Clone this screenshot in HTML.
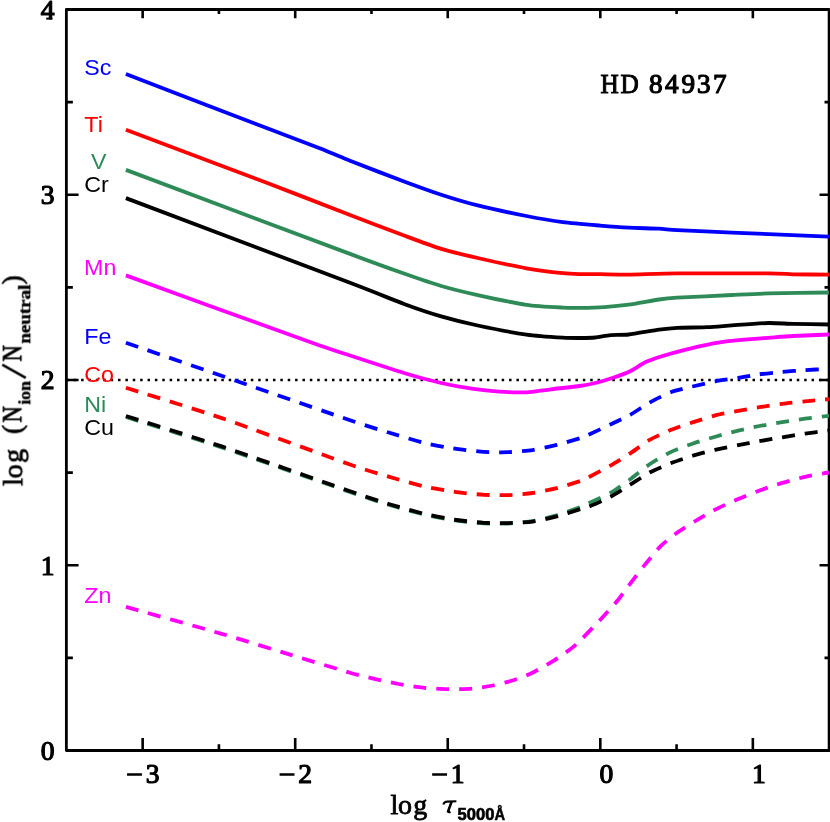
<!DOCTYPE html>
<html><head><meta charset="utf-8"><title>HD 84937</title>
<style>html,body{margin:0;padding:0;background:#fff;}body{width:830px;height:822px;overflow:hidden;}svg{display:block;}text{font-family:"Liberation Serif",serif;}.s{font-family:"Liberation Sans",sans-serif;font-size:22.8px;}.sb{font-weight:bold;}.b{font-family:"Liberation Sans",sans-serif;font-weight:bold;}</style>
</head><body>
<svg width="830" height="822" viewBox="0 0 830 822">
<defs><filter id="g" filterUnits="userSpaceOnUse" x="0" y="0" width="830" height="822" color-interpolation-filters="sRGB"><feOffset dx="0" dy="0"/></filter></defs>
<rect width="830" height="822" fill="#fff"/>
<g stroke="#000" fill="none" stroke-linecap="butt">
<rect x="66.37" y="9.50" width="762.75" height="741.00" stroke-width="2.80" stroke-linejoin="round"/>
<path d="M142.65 750.50v-12.50M142.65 9.50v8.70M218.92 750.50v-6.20M218.92 9.50v4.40M295.20 750.50v-12.50M295.20 9.50v8.70M371.47 750.50v-6.20M371.47 9.50v4.40M447.75 750.50v-12.50M447.75 9.50v8.70M524.02 750.50v-6.20M524.02 9.50v4.40M600.30 750.50v-12.50M600.30 9.50v8.70M676.57 750.50v-6.20M676.57 9.50v4.40M752.85 750.50v-12.50M752.85 9.50v8.70M66.37 657.88h6.50M829.12 657.88h-4.60M66.37 565.25h12.20M829.12 565.25h-9.60M66.37 472.62h6.50M829.12 472.62h-4.60M66.37 380.00h12.20M829.12 380.00h-9.60M66.37 287.38h6.50M829.12 287.38h-4.60M66.37 194.75h12.20M829.12 194.75h-9.60M66.37 102.12h6.50M829.12 102.12h-4.60" stroke-width="2.60"/>
</g>
<path d="M66.37 380.00 H829.12" stroke="#000" stroke-width="2.5" stroke-dasharray="2.5 4.878" fill="none"/>
<clipPath id="c"><rect x="0" y="0" width="829.12" height="822"/></clipPath>
<g fill="none" stroke-width="3.80" stroke-linejoin="round" clip-path="url(#c)">
<path d="M125.90 74.10 C136.15 78.04 201.40 103.12 222.00 111.00 C242.60 118.88 305.35 142.69 319.00 148.00 C332.65 153.31 340.86 157.21 350.00 160.80 C359.14 164.39 394.97 178.08 404.70 181.70 C414.43 185.32 433.41 192.17 441.20 194.70 C448.99 197.23 468.61 203.13 477.70 205.40 C486.79 207.67 517.31 214.22 526.40 216.00 C535.49 217.78 555.05 221.08 562.90 222.10 C570.75 223.12 592.98 225.00 600.00 225.60 C607.02 226.20 622.41 227.37 628.70 227.70 C634.99 228.03 653.82 228.43 659.00 228.70 C664.18 228.97 669.51 229.78 677.30 230.20 C685.09 230.62 722.26 232.18 732.00 232.60 C741.74 233.02 758.20 233.67 768.60 234.10 C779.00 234.53 823.00 236.33 829.50 236.60" stroke="#0000ff"/>
<path d="M125.90 129.70 C140.98 135.39 243.40 173.90 267.30 183.00 C291.20 192.10 335.34 209.37 350.00 215.00 C364.66 220.63 394.97 232.18 404.70 235.80 C414.43 239.42 433.41 246.53 441.20 248.90 C448.99 251.27 468.61 255.93 477.70 258.00 C486.79 260.07 517.31 266.68 526.40 268.30 C535.49 269.92 557.08 272.58 562.90 273.20 C568.72 273.82 577.04 273.99 581.00 274.10 C584.96 274.21 594.91 274.15 600.00 274.20 C605.09 274.25 620.45 274.69 628.70 274.60 C636.95 274.51 662.38 273.53 677.30 273.40 C692.22 273.27 756.27 273.30 768.60 273.40 C780.75 273.49 786.40 274.17 792.90 274.30 C799.40 274.43 825.60 274.57 829.50 274.60" stroke="#ff0000"/>
<path d="M125.90 169.90 C149.80 178.86 320.26 242.82 350.00 253.90 C377.35 264.09 394.97 270.38 404.70 273.80 C414.43 277.22 433.41 283.73 441.20 286.00 C448.99 288.27 468.61 293.09 477.70 295.10 C486.79 297.11 517.31 303.47 526.40 304.80 C535.49 306.13 557.08 307.27 562.90 307.60 C568.72 307.93 576.58 307.95 581.00 307.90 C585.42 307.85 599.21 307.44 604.30 307.10 C609.39 306.76 622.87 305.51 628.70 304.70 C634.53 303.89 653.82 300.25 659.00 299.50 C664.18 298.75 669.51 298.18 677.30 297.70 C685.09 297.22 722.26 295.46 732.00 295.00 C741.74 294.54 758.20 293.67 768.60 293.40 C779.00 293.13 823.00 292.60 829.50 292.50" stroke="#2e8b57"/>
<path d="M125.90 198.10 C149.80 207.13 320.26 271.48 350.00 282.80 C377.35 293.21 394.97 300.62 404.70 304.20 C414.43 307.78 433.41 314.13 441.20 316.40 C448.99 318.67 468.61 323.56 477.70 325.50 C486.79 327.44 517.31 333.30 526.40 334.60 C535.49 335.90 557.08 337.34 562.90 337.70 C568.72 338.06 577.55 338.02 581.00 338.00 C584.45 337.98 592.06 337.81 595.20 337.50 C598.34 337.19 606.83 335.42 610.40 335.10 C613.97 334.78 623.52 335.09 628.70 334.50 C633.88 333.91 653.82 330.31 659.00 329.60 C664.18 328.89 672.11 328.06 677.30 327.80 C682.49 327.54 701.87 327.46 707.70 327.20 C713.53 326.94 725.50 325.85 732.00 325.40 C738.50 324.95 762.10 323.16 768.60 323.00 C775.10 322.84 786.40 323.74 792.90 323.90 C799.40 324.06 825.60 324.44 829.50 324.50" stroke="#000000"/>
<path d="M125.90 275.40 C136.12 279.11 201.10 302.75 221.70 310.20 C242.30 317.65 305.31 340.37 319.00 345.20 C332.69 350.03 340.86 352.51 350.00 355.50 C359.14 358.49 394.97 370.27 404.70 373.20 C414.43 376.13 434.05 381.35 441.20 383.00 C448.35 384.65 465.53 387.77 471.70 388.70 C477.87 389.63 493.17 391.32 499.00 391.70 C504.83 392.08 520.89 392.56 526.40 392.30 C531.91 392.04 544.98 389.97 550.70 389.30 C556.42 388.63 575.01 386.73 580.00 386.00 C584.99 385.27 593.98 383.37 597.50 382.50 C601.02 381.63 609.58 378.97 613.00 377.80 C616.42 376.63 626.11 373.19 629.60 371.50 C633.09 369.81 642.27 363.63 645.70 362.00 C649.13 360.37 658.43 357.29 661.80 356.20 C665.17 355.11 673.04 352.91 677.30 351.80 C681.56 350.69 696.83 346.87 701.70 345.80 C706.57 344.73 718.14 342.48 723.00 341.80 C727.86 341.12 742.44 339.83 747.30 339.40 C752.16 338.97 763.74 338.16 768.60 337.80 C773.46 337.44 786.40 336.35 792.90 336.00 C799.40 335.65 825.60 334.66 829.50 334.50" stroke="#ff00ff"/>
<path d="M125.90 342.70 C138.39 347.02 219.10 374.93 243.00 383.20 C266.90 391.47 334.37 414.91 350.00 420.20 C365.63 425.49 381.39 430.33 389.50 432.80 C397.61 435.27 418.86 441.68 426.00 443.40 C433.14 445.12 450.23 447.99 456.40 448.90 C462.57 449.81 478.27 451.55 483.80 451.90 C489.33 452.25 503.01 452.39 508.20 452.20 C513.39 452.01 527.32 450.88 532.50 450.10 C537.68 449.32 551.62 446.20 556.80 444.90 C561.98 443.60 577.65 439.01 581.10 437.90 C584.55 436.79 585.97 435.93 589.10 434.50 C592.23 433.07 606.02 426.60 610.40 424.50 C614.78 422.40 625.98 417.17 630.20 414.80 C634.42 412.43 645.63 404.73 650.00 402.30 C654.37 399.87 666.67 393.69 671.20 392.00 C675.73 390.31 687.80 387.64 692.50 386.50 C697.20 385.36 710.43 382.21 715.30 381.30 C720.17 380.39 733.50 378.75 738.20 378.00 C742.90 377.25 754.70 374.95 759.40 374.30 C764.10 373.65 777.43 372.35 782.30 371.90 C787.17 371.45 800.25 370.42 805.10 370.10 C809.95 369.78 825.38 369.03 827.80 368.90" stroke="#0000ff" stroke-dasharray="13.10 9.86"/>
<path d="M125.90 387.70 C136.12 390.94 197.80 409.91 221.70 418.10 C245.60 426.29 332.10 458.23 350.00 464.50 C367.90 470.77 381.39 474.51 389.50 476.90 C397.61 479.29 418.86 485.28 426.00 486.90 C433.14 488.52 450.23 491.26 456.40 492.10 C462.57 492.94 478.27 494.48 483.80 494.80 C489.33 495.12 503.01 495.29 508.20 495.10 C513.39 494.91 527.32 493.75 532.50 493.00 C537.68 492.25 551.62 489.40 556.80 488.10 C561.98 486.80 577.65 481.98 581.10 480.80 C584.55 479.62 585.97 478.62 589.10 477.00 C592.23 475.38 606.02 468.12 610.40 465.60 C614.78 463.08 625.98 456.16 630.20 453.40 C634.42 450.64 645.63 442.23 650.00 439.70 C654.37 437.17 666.67 431.55 671.20 429.70 C675.73 427.85 687.80 423.93 692.50 422.40 C697.20 420.87 710.43 416.64 715.30 415.40 C720.17 414.16 733.50 411.67 738.20 410.80 C742.90 409.93 754.70 407.95 759.40 407.20 C764.10 406.45 777.43 404.42 782.30 403.80 C787.17 403.18 800.07 401.90 805.10 401.40 C810.13 400.90 826.90 399.35 829.50 399.10" stroke="#ff0000" stroke-dasharray="13.10 9.86"/>
<path d="M125.90 417.00 C136.12 420.24 197.80 439.40 221.70 447.40 C245.60 455.40 332.10 485.86 350.00 492.00 C367.90 498.14 381.39 502.55 389.50 505.00 C397.61 507.45 418.86 513.35 426.00 515.00 C433.14 516.65 450.23 519.61 456.40 520.50 C462.57 521.39 478.27 522.98 483.80 523.30 C489.33 523.62 503.01 523.73 508.20 523.50 C513.39 523.27 527.32 521.97 532.50 521.10 C537.68 520.23 551.62 516.83 556.80 515.30 C561.98 513.77 577.65 508.11 581.10 506.80 C584.55 505.49 585.97 504.47 589.10 503.00 C592.23 501.53 606.02 495.53 610.40 493.00 C614.78 490.47 625.98 482.39 630.20 479.30 C634.42 476.21 645.63 466.92 650.00 464.00 C654.37 461.08 666.67 454.07 671.20 451.90 C675.73 449.73 687.80 445.32 692.50 443.70 C697.20 442.08 710.43 438.10 715.30 436.70 C720.17 435.30 733.50 431.74 738.20 430.60 C742.90 429.46 754.70 426.91 759.40 426.00 C764.10 425.09 777.43 422.88 782.30 422.10 C787.17 421.32 800.07 419.37 805.10 418.70 C810.13 418.03 826.90 416.11 829.50 415.80" stroke="#2e8b57" stroke-dasharray="13.10 9.86"/>
<path d="M125.90 416.00 C136.12 419.24 197.80 438.38 221.70 446.40 C245.60 454.42 332.10 485.03 350.00 491.20 C367.90 497.37 381.39 501.74 389.50 504.20 C397.61 506.66 418.86 512.61 426.00 514.30 C433.14 515.99 450.23 519.09 456.40 520.00 C462.57 520.91 478.27 522.47 483.80 522.80 C489.33 523.13 503.01 523.23 508.20 523.10 C513.39 522.97 527.32 522.31 532.50 521.60 C537.68 520.89 551.62 517.77 556.80 516.40 C561.98 515.03 577.65 509.85 581.10 508.80 C584.55 507.75 585.97 507.87 589.10 506.60 C592.23 505.33 606.02 499.24 610.40 496.90 C614.78 494.56 625.98 487.32 630.20 484.70 C634.42 482.08 645.63 474.60 650.00 472.30 C654.37 470.00 666.67 464.86 671.20 463.10 C675.73 461.34 687.80 457.22 692.50 455.80 C697.20 454.38 710.43 450.93 715.30 449.80 C720.17 448.67 733.50 446.12 738.20 445.20 C742.90 444.28 754.70 442.04 759.40 441.20 C764.10 440.36 777.43 438.11 782.30 437.30 C787.17 436.49 800.07 434.33 805.10 433.60 C810.13 432.87 826.90 430.83 829.50 430.50" stroke="#000000" stroke-dasharray="13.10 9.86"/>
<path d="M125.90 606.90 C136.12 609.77 204.03 628.66 221.70 633.80 C239.37 638.94 277.91 650.95 291.60 655.10 C305.29 659.25 341.18 670.17 350.00 672.70 C358.82 675.23 369.11 677.59 374.30 678.80 C379.49 680.01 393.51 683.05 398.70 684.00 C403.89 684.95 417.82 687.15 423.00 687.70 C428.18 688.25 442.11 689.10 447.30 689.20 C452.49 689.30 466.83 688.99 471.70 688.60 C476.57 688.21 488.47 686.42 493.00 685.50 C497.53 684.58 509.99 681.37 514.20 680.00 C518.41 678.63 528.28 674.77 532.50 672.70 C536.72 670.63 549.26 663.51 553.80 660.60 C558.34 657.69 570.17 649.72 575.10 645.40 C580.03 641.08 595.42 624.94 600.00 620.10 C604.58 615.26 614.94 603.67 618.00 600.00 C621.06 596.33 625.94 589.34 628.70 585.70 C631.46 582.06 640.50 570.11 643.90 565.90 C647.30 561.69 657.04 549.76 660.60 546.20 C664.16 542.64 673.57 535.20 677.30 532.50 C681.03 529.80 691.71 523.27 695.60 520.90 C699.49 518.53 709.26 512.64 713.80 510.30 C718.34 507.96 733.34 501.11 738.20 499.00 C743.06 496.89 754.70 492.22 759.40 490.50 C764.10 488.78 777.43 484.36 782.30 482.90 C787.17 481.44 800.07 477.92 805.10 476.80 C810.13 475.68 826.90 472.87 829.50 472.40" stroke="#ff00ff" stroke-dasharray="13.10 9.86"/>
</g>
<g filter="url(#g)">
<g font-size="27.6" stroke="#000" stroke-width="1.2" stroke-linejoin="round" text-anchor="middle">
<text x="152.6" y="782.8">3</text>
<text x="305.2" y="782.8">2</text>
<text x="457.7" y="782.8">1</text>
<text x="606.5" y="782.8">0</text>
<text x="759.0" y="782.8">1</text>
<text x="47.7" y="759.7">0</text>
<text x="47.7" y="574.5">1</text>
<text x="47.7" y="389.2">2</text>
<text x="47.7" y="203.9">3</text>
<text x="47.7" y="18.7">4</text>
</g>
<path d="M127.05 774.5h14.9M279.60 774.5h14.9M432.15 774.5h14.9" stroke="#000" stroke-width="2.6" fill="none"/>
<path d="M46.2 18.6h6.2" stroke="#000" stroke-width="2" fill="none"/>
<text class="s" transform="translate(84.3 74.5) scale(1.02 1)" fill="#0000ff">Sc</text>
<text class="s" transform="translate(84.3 132.1) scale(1.02 1)" fill="#ff0000">Ti</text>
<text class="s" transform="translate(90.9 169.3) scale(1.02 1)" fill="#2e8b57">V</text>
<text class="s" transform="translate(84.3 192.0) scale(1.02 1)" fill="#000">Cr</text>
<text class="s" transform="translate(84.1 275.0) scale(1.02 1)" fill="#ff00ff">Mn</text>
<text class="s" transform="translate(84.3 343.8) scale(1.02 1)" fill="#0000ff">Fe</text>
<text class="s" transform="translate(84.3 381.9) scale(1.02 1)" fill="#ff0000">Co</text>
<text class="s" transform="translate(84.3 412.0) scale(1.02 1)" fill="#2e8b57">Ni</text>
<text class="s" transform="translate(84.3 434.6) scale(1.02 1)" fill="#000">Cu</text>
<text class="s" transform="translate(84.2 603.3) scale(1.02 1)" fill="#ff00ff">Zn</text>
<text transform="translate(600.6 92.6) scale(0.93 1)" font-size="27.2" stroke="#000" stroke-width="1.0" x="0 21.3">HD</text>
<text transform="translate(0 92.7) scale(1 1)" y="0" font-size="27.2" stroke="#000" stroke-width="1.2" stroke-linejoin="round" x="649.1 664.9 681.5 697.1 713.1">84937</text>
<text y="813.5" x="390.4 397.9 413.2" font-size="28" stroke="#000" stroke-width="0.8">log</text>
<path d="M443.3 804.5Q444.3 801.7 447.2 801.6L456.4 801.3" stroke="#000" stroke-width="2.1" fill="none"/>
<path d="M451.6 801.6L448 811.6Q449 812.4 450.4 811.6" stroke="#000" stroke-width="2.6" fill="none" stroke-linejoin="round"/>
<text class="b" x="457.6" y="820" font-size="15.6" textLength="36.8" lengthAdjust="spacingAndGlyphs" stroke="#000" stroke-width="0.6">5000</text>
<text class="b" x="494.6" y="820" font-size="15.6" textLength="10.6" lengthAdjust="spacingAndGlyphs" stroke="#000" stroke-width="0.5">Å</text>
<g transform="translate(22.2 485.4) rotate(-90)">
<text y="0" x="-0.4 7.1 22.4" font-size="28" stroke="#000" stroke-width="0.8">log</text>
<text x="51.5" y="-1.3" font-size="27" stroke="#000" stroke-width="0.8">(</text>
<text transform="translate(62.9 -0.6) scale(0.82 1)" font-size="27.5" stroke="#000" stroke-width="0.9">N</text>
<text class="sb" x="80.7" y="7.6" font-size="16.5" textLength="23.6" lengthAdjust="spacingAndGlyphs" stroke="#000" stroke-width="0.4">ion</text>
<path d="M107.5 3.6L120.7 -19.9" stroke="#000" stroke-width="2.5" fill="none"/>
<text transform="translate(123.9 -0.6) scale(0.82 1)" font-size="27.5" stroke="#000" stroke-width="0.9">N</text>
<text class="sb" x="141.8" y="7.6" font-size="16.5" textLength="58.9" lengthAdjust="spacingAndGlyphs" stroke="#000" stroke-width="0.4">neutral</text>
<text x="201" y="-1.3" font-size="27" stroke="#000" stroke-width="0.8">)</text>
</g>
</g>
</svg>
</body></html>
